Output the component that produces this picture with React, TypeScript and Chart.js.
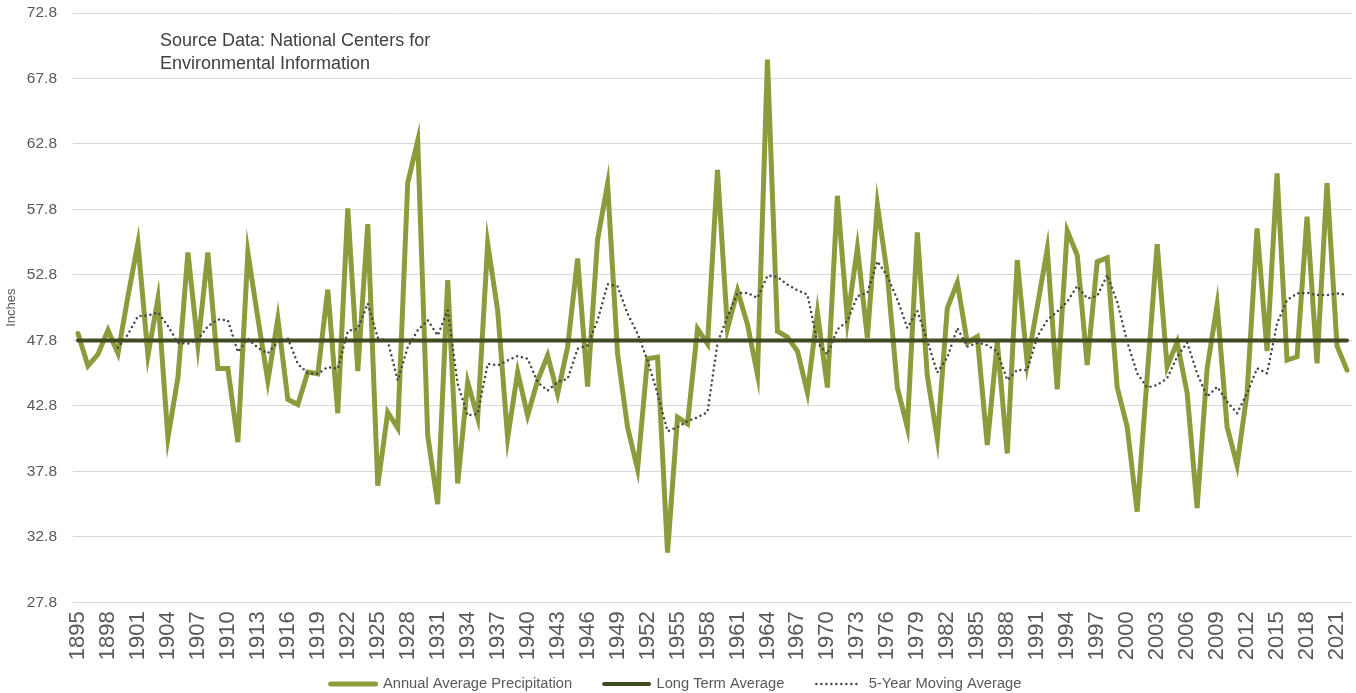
import React, { useEffect, useRef } from 'react';
import { Chart, registerables } from 'chart.js';

Chart.register(...registerables);

// ---------- data ----------
const START_YEAR = 1895;
const YEAR_COUNT = 128;
const YEARS: string[] = Array.from({ length: YEAR_COUNT }, (_, i) => String(START_YEAR + i));

// Annual average precipitation (inches), 1895–2022
const ANNUAL: number[] = [
  48.33, 45.85, 46.74, 48.58, 46.81, 51.17, 55.22, 46.66, 50.96, 40.36, // 1895-1904
  44.96, 54.51, 47.42, 54.51, 45.65, 45.65, 40.03, 54.51, 49.5, 44.71, // 1905-1914
  49.45, 43.3, 42.9, 45.38, 45.25, 51.68, 42.24, 57.88, 45.45, 56.68, // 1915-1924
  36.7, 42.31, 41.1, 59.84, 63.05, 40.53, 35.3, 52.4, 36.88, 44.61, // 1925-1934
  41.88, 55.2, 50.1, 40.35, 45.38, 42.06, 44.74, 46.65, 43.72, 47.29, // 1935-1944
  54.05, 44.28, 55.5, 59.74, 46.78, 41.17, 37.98, 46.4, 46.52, 31.6, // 1945-1954
  41.93, 41.42, 48.7, 47.54, 60.81, 48.7, 51.6, 49.02, 45.2, 69.25, // 1955-1964
  48.5, 48.05, 46.99, 43.82, 49.91, 44.2, 58.84, 49.35, 54.86, 48.0, // 1965-1974
  58.16, 52.83, 44.2, 41.15, 56.05, 45.08, 40.26, 50.27, 52.22, 47.62, // 1975-1984
  48.08, 39.81, 47.7, 39.17, 53.93, 46.04, 50.37, 54.75, 44.06, 56.17, // 1985-1994
  54.31, 45.92, 53.8, 54.11, 44.21, 41.21, 34.72, 45.03, 55.15, 45.79, // 1995-2004
  47.67, 43.8, 35.0, 45.66, 50.5, 41.2, 38.27, 43.8, 56.35, 46.99, // 2005-2014
  60.55, 46.3, 46.55, 57.24, 46.04, 59.8, 47.37, 45.53, // 2015-2022
];

// 5-year moving average (inches), first value at 1899
const MOVING_AVG: (number | null)[] = [
  null, null, null, null, 47.24, 48.26, 49.65, 49.7, 49.95, 48.89, // 1895-1904
  47.62, 47.55, 47.88, 48.89, 49.4, 49.34, 46.91, 47.93, 47.24, 46.81, // 1905-1914
  47.67, 47.95, 46.0, 45.3, 45.25, 45.76, 45.63, 48.51, 48.69, 50.61, // 1915-1924
  48.0, 47.75, 44.74, 47.29, 48.57, 49.34, 48.18, 50.1, 44.48, 42.06, // 1925-1934
  42.19, 46.01, 45.89, 46.27, 46.6, 46.4, 44.61, 43.97, 44.61, 44.87, // 1935-1944
  47.16, 47.42, 49.33, 52.09, 51.93, 49.84, 48.31, 46.27, 43.72, 40.86, // 1945-1954
  41.17, 41.63, 41.93, 42.32, 47.6, 49.62, 51.4, 51.43, 51.05, 52.75, // 1955-1964
  52.65, 52.06, 51.63, 51.3, 47.62, 46.73, 48.64, 49.27, 51.18, 51.43, // 1965-1974
  53.84, 52.7, 50.92, 48.76, 50.03, 47.75, 45.34, 46.5, 48.74, 47.32, // 1975-1984
  47.62, 47.44, 46.93, 44.77, 45.54, 45.54, 48.08, 49.35, 49.99, 50.75, // 1985-1994
  51.95, 51.0, 51.18, 52.79, 50.75, 47.7, 45.28, 44.2, 44.39, 44.9, // 1995-2004
  46.55, 47.62, 45.28, 43.5, 44.26, 43.12, 42.23, 43.75, 45.66, 45.28, // 2005-2014
  49.1, 50.88, 51.39, 51.44, 51.26, 51.26, 51.39, 51.26, // 2015-2022
];

const LONG_TERM_AVG = 47.8;

const Y_MIN = 27.8;
const Y_MAX = 72.8;
const Y_STEP = 5;
const LABEL_EVERY = 3;

const SERIES_NAMES = ['Annual Average Precipitation', 'Long Term Average', '5-Year Moving Average'];
const Y_TITLE = 'Inches';
const SOURCE_LINES = ['Source Data: National Centers for', 'Environmental Information'];

// ---------- styles ----------
const FONT = '"Liberation Sans", Arial, sans-serif';
const TEXT_COLOR = '#595959';
const OLIVE = '#8C9B3C';
const DARK_OLIVE = '#3E4A20';
const DOT_COLOR = '#454545';
const LEGEND_PADDING = 32;
const LEGEND_FONT_SIZE = 14.7;
const LEGEND_CENTER_Y = 684;

// moves the legend row to its place below the rotated year labels
const legendShift = {
  id: 'legendShift',
  afterLayout(chart: any) {
    const lg = chart.legend;
    if (!lg) return;
    const currentCenter = lg.top + LEGEND_PADDING + LEGEND_FONT_SIZE / 2;
    const d = LEGEND_CENTER_Y - currentCenter;
    lg.top += d;
    lg.bottom += d;
  },
};

export default function App() {
  const canvasRef = useRef<HTMLCanvasElement | null>(null);

  useEffect(() => {
    const canvas = canvasRef.current;
    if (!canvas) return;
    Chart.defaults.font.family = FONT;

    const chart = new Chart(canvas, {
      type: 'line',
      data: {
        labels: YEARS,
        datasets: [
          {
            label: SERIES_NAMES[0],
            data: ANNUAL,
            borderColor: OLIVE,
            backgroundColor: OLIVE,
            borderWidth: 5,
            borderCapStyle: 'round',
            pointRadius: 0,
            pointHoverRadius: 0,
            tension: 0,
            order: 3,
          },
          {
            label: SERIES_NAMES[1],
            data: YEARS.map(() => LONG_TERM_AVG),
            borderColor: DARK_OLIVE,
            backgroundColor: DARK_OLIVE,
            borderWidth: 4,
            borderCapStyle: 'round',
            pointRadius: 0,
            pointHoverRadius: 0,
            tension: 0,
            order: 2,
          },
          {
            label: SERIES_NAMES[2],
            data: MOVING_AVG,
            borderColor: DOT_COLOR,
            backgroundColor: DOT_COLOR,
            borderWidth: 2.5,
            borderDash: [0, 5],
            borderCapStyle: 'round',
            pointRadius: 0,
            pointHoverRadius: 0,
            tension: 0,
            order: 1,
          },
        ],
      },
      options: {
        animation: false,
        responsive: false,
        maintainAspectRatio: false,
        layout: { padding: { top: 13, right: 4, left: 0, bottom: -28 } },
        plugins: {
          tooltip: { enabled: false },
          legend: {
            position: 'bottom',
            labels: {
              usePointStyle: true,
              pointStyleWidth: 45,
              padding: LEGEND_PADDING,
              color: TEXT_COLOR,
              font: { family: FONT, size: LEGEND_FONT_SIZE },
              generateLabels: (ch: any) =>
                ch.data.datasets.map((ds: any, i: number) => ({
                  text: ds.label,
                  fillStyle: ds.borderColor,
                  strokeStyle: ds.borderColor,
                  lineWidth: ds.borderWidth,
                  lineDash: ds.borderDash || [],
                  lineCap: ds.borderCapStyle || 'butt',
                  pointStyle: 'line',
                  hidden: false,
                  datasetIndex: i,
                  fontColor: TEXT_COLOR,
                })),
            },
          },
        },
        scales: {
          x: {
            offset: true,
            grid: { display: false, drawTicks: false },
            border: { display: false },
            ticks: {
              autoSkip: false,
              maxRotation: 90,
              minRotation: 90,
              padding: 9,
              color: TEXT_COLOR,
              font: { family: FONT, size: 22 },
              callback: (_v: any, i: number) => (i % LABEL_EVERY === 0 ? YEARS[i] : ''),
            },
            afterFit: (s: any) => {
              s.height = 62;
              s.paddingLeft = 0;
              s.paddingRight = 0;
            },
          },
          y: {
            min: Y_MIN,
            max: Y_MAX,
            border: { display: false },
            grid: { color: '#D9D9D9', lineWidth: 1, drawTicks: false },
            ticks: {
              stepSize: Y_STEP,
              padding: 16,
              color: TEXT_COLOR,
              font: { family: FONT, size: 15.5 },
              callback: (v: any) => Number(v).toFixed(1),
            },
            title: {
              display: true,
              text: Y_TITLE,
              color: TEXT_COLOR,
              font: { family: FONT, size: 13 },
              padding: { top: 4, bottom: 0 },
            },
            afterFit: (s: any) => {
              s.width = 73;
              s.paddingTop = 0;
              s.paddingBottom = 0;
            },
          },
        },
      },
      plugins: [legendShift],
    } as any);

    return () => chart.destroy();
  }, []);

  return (
    <div
      style={{
        position: 'fixed',
        left: 0,
        top: 0,
        width: 1356,
        height: 693,
        overflow: 'hidden',
        background: '#ffffff',
      }}
    >
      <canvas ref={canvasRef} width={1356} height={693} style={{ display: 'block' }} />
      <div
        style={{
          position: 'absolute',
          left: 160,
          top: 28.5,
          fontFamily: FONT,
          fontSize: 18,
          lineHeight: '23px',
          color: '#404040',
          whiteSpace: 'nowrap',
        }}
      >
        {SOURCE_LINES[0]}
        <br />
        {SOURCE_LINES[1]}
      </div>
    </div>
  );
}
